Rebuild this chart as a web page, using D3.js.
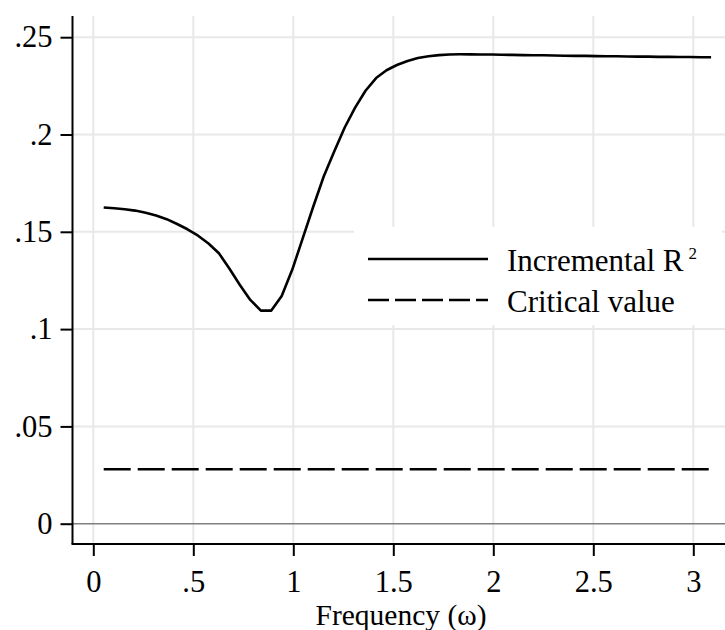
<!DOCTYPE html>
<html>
<head>
<meta charset="utf-8">
<script src="https://cdn.jsdelivr.net/npm/d3@7"></script>
<style>
  body { margin: 0; background: #fff; }
  text { font-family: "Liberation Serif", "DejaVu Serif", serif; fill: #000; }
</style>
</head>
<body>
<script>
// frequencies (omega) and values
const omega = [0.052, 0.105, 0.157, 0.209, 0.262, 0.314, 0.367, 0.419, 0.471, 0.524,
  0.576, 0.628, 0.681, 0.733, 0.785, 0.838, 0.890, 0.942, 0.995, 1.047,
  1.100, 1.152, 1.204, 1.257, 1.309, 1.361, 1.414, 1.466, 1.518, 1.571,
  1.623, 1.676, 1.728, 1.780, 1.833, 1.885, 1.937, 1.990, 2.042, 2.094,
  2.147, 2.199, 2.251, 2.304, 2.356, 2.409, 2.461, 2.513, 2.566, 2.618,
  2.670, 2.723, 2.775, 2.827, 2.880, 2.932, 2.985, 3.037, 3.089];
const incrementalR2 = [0.1625, 0.1621, 0.1616, 0.1609, 0.1598, 0.1584, 0.1565, 0.1540, 0.1513, 0.1480,
  0.1440, 0.1390, 0.1310, 0.1227, 0.1150, 0.1095, 0.1095, 0.1170, 0.1306, 0.1466,
  0.1630, 0.1784, 0.1911, 0.2036, 0.2138, 0.2225, 0.2290, 0.2330, 0.2357, 0.2378,
  0.2393, 0.2402, 0.2408, 0.2411, 0.2412, 0.2412, 0.2411, 0.2411, 0.2410, 0.2409,
  0.2408, 0.2407, 0.2407, 0.2406, 0.2405, 0.2404, 0.2404, 0.2403, 0.2402, 0.2402,
  0.2401, 0.2400, 0.2400, 0.2399, 0.2399, 0.2398, 0.2398, 0.2397, 0.2397];
const criticalValue = 0.028;

const xTicks = [0, 0.5, 1, 1.5, 2, 2.5, 3];
const xTickLabels = ['0', '.5', '1', '1.5', '2', '2.5', '3'];
const yTicks = [0, 0.05, 0.1, 0.15, 0.2, 0.25];
const yTickLabels = ['0', '.05', '.1', '.15', '.2', '.25'];

const W = 725, H = 630;
const plotLeft = 72.5, plotRight = 725, plotTop = 16, plotBottom = 544;

const svg = d3.select('body').append('svg')
  .attr('width', W)
  .attr('height', H);

const x = d3.scaleLinear().domain([0, 3]).range([93.3, 693.3]);
const y = d3.scaleLinear().domain([0, 0.25]).range([523.7, 37.2]);

// gridlines
svg.append('g').selectAll('line')
  .data(xTicks)
  .enter().append('line')
  .attr('x1', d => x(d)).attr('x2', d => x(d))
  .attr('y1', plotTop).attr('y2', plotBottom)
  .attr('stroke', '#e8e8e8').attr('stroke-width', 2);

svg.append('g').selectAll('line')
  .data(yTicks.filter(d => d > 0))
  .enter().append('line')
  .attr('x1', plotLeft).attr('x2', plotRight)
  .attr('y1', d => y(d)).attr('y2', d => y(d))
  .attr('stroke', '#e8e8e8').attr('stroke-width', 2);

// zero line
svg.append('line')
  .attr('x1', plotLeft).attr('x2', plotRight)
  .attr('y1', y(0)).attr('y2', y(0))
  .attr('stroke', '#808080').attr('stroke-width', 1.5);

// series
const data = omega.map((w, i) => ({ w: w, v: incrementalR2[i] }));

svg.append('path')
  .datum(data)
  .attr('fill', 'none')
  .attr('stroke', '#000')
  .attr('stroke-width', 2.6)
  .attr('stroke-linejoin', 'round')
  .attr('d', d3.line().x(d => x(d.w)).y(d => y(d.v)));

svg.append('path')
  .datum(omega)
  .attr('fill', 'none')
  .attr('stroke', '#000')
  .attr('stroke-width', 2.6)
  .attr('stroke-dasharray', '27 7')
  .attr('d', d3.line().x(d => x(d)).y(() => y(criticalValue)));

// axes
const yAxis = svg.append('g')
  .attr('transform', `translate(${plotLeft},0)`)
  .call(d3.axisLeft(y).tickValues(yTicks).tickSize(12).tickPadding(8)
    .tickFormat((d, i) => yTickLabels[i]));
yAxis.select('.domain').attr('d', `M0,${plotTop}V${plotBottom}`).attr('stroke-width', 2);

const xAxis = svg.append('g')
  .attr('transform', `translate(0,${plotBottom})`)
  .call(d3.axisBottom(x).tickValues(xTicks).tickSize(12).tickPadding(14)
    .tickFormat((d, i) => xTickLabels[i]));
xAxis.select('.domain').attr('d', `M${plotLeft - 1},0H${plotRight}`).attr('stroke-width', 2);

svg.selectAll('.tick line').attr('stroke-width', 2);
svg.selectAll('.tick text')
  .style('font-family', '"Liberation Serif", serif')
  .style('font-size', '30.5px')
  .attr('fill', '#000');

// axis title
svg.append('text')
  .attr('x', 401)
  .attr('y', 625)
  .attr('text-anchor', 'middle')
  .style('font-size', '29.5px')
  .text('Frequency (\u03c9)');

// legend
const legend = svg.append('g');
legend.append('rect')
  .attr('x', 354).attr('y', 227)
  .attr('width', 368).attr('height', 98)
  .attr('fill', '#fff');

const legendItems = [
  { label: 'Incremental R', sup: '2', dash: null },
  { label: 'Critical value', sup: null, dash: '21 6' }
];

const items = legend.selectAll('g.item')
  .data(legendItems)
  .enter().append('g')
  .attr('class', 'item')
  .attr('transform', (d, i) => `translate(0, ${259 + i * 41})`);

items.append('line')
  .attr('x1', 368).attr('x2', 488)
  .attr('y1', 0).attr('y2', 0)
  .attr('stroke', '#000')
  .attr('stroke-width', 2.6)
  .attr('stroke-dasharray', d => d.dash);

const labels = items.append('text')
  .attr('x', 507)
  .attr('y', 12)
  .style('font-size', '31px');
labels.append('tspan').text(d => d.label);
labels.filter(d => d.sup).append('tspan')
  .attr('dx', 5).attr('dy', -12)
  .style('font-size', '17px')
  .text(d => d.sup);
</script>
</body>
</html>
